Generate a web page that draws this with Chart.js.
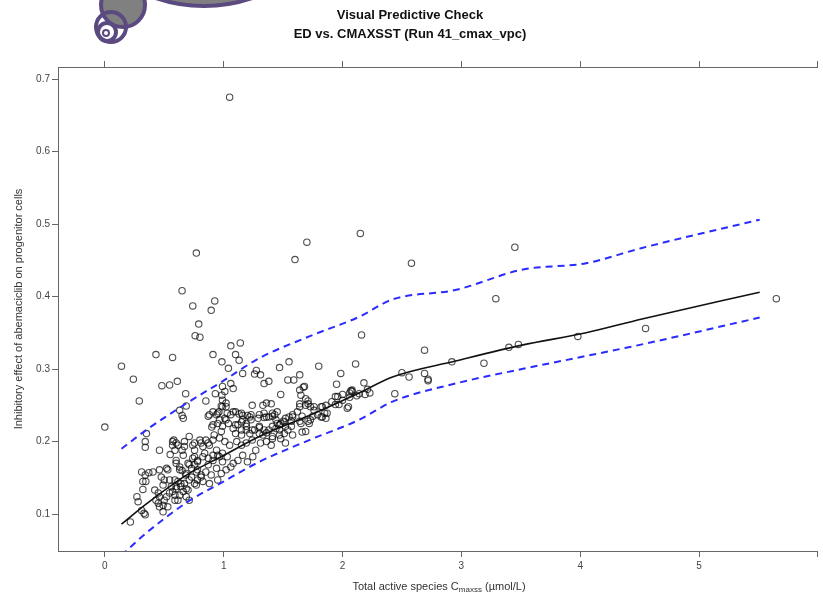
<!DOCTYPE html>
<html>
<head>
<meta charset="utf-8">
<script src="https://cdn.jsdelivr.net/npm/chart.js@4"></script>
<style>
  html, body { margin: 0; padding: 0; background: #fff; }
  #wrap { position: relative; width: 823px; height: 595px; overflow: hidden; }
  #logo { position: absolute; left: 0; top: 0; }
  #xtitle {
    position: absolute; left: 58px; width: 762px; top: 580px;
    text-align: center; font: 11px "Liberation Sans", Arial, sans-serif; color: #333;
  }
  #xtitle sub { font-size: 8px; vertical-align: -2px; }
</style>
</head>
<body>
<div id="wrap">
  <canvas id="vpc" width="823" height="595"></canvas>
  <svg id="logo" width="260" height="50">
    <circle cx="204" cy="-144" r="150" fill="#808080" stroke="#5b4a80" stroke-width="4"/>
    <circle cx="123" cy="5" r="22" fill="#808080" stroke="#5b4a80" stroke-width="4"/>
    <circle cx="111" cy="27" r="15" fill="none" stroke="#5b4a80" stroke-width="4"/>
    <circle cx="107" cy="32" r="9" fill="none" stroke="#5b4a80" stroke-width="4"/>
    <circle cx="106" cy="33" r="3" fill="none" stroke="#5b4a80" stroke-width="2"/>
  </svg>
  <div id="xtitle">Total active species C<sub>maxss</sub> (µmol/L)</div>
</div>
<script>
// observed data: concentration (µmol/L) and inhibitory effect
const obsConc = [
  0.00, 0.14, 0.24, 0.29, 0.43, 0.57, 0.48, 0.545, 0.61, 0.65, 0.77, 0.74, 0.925, 0.895, 0.79, 0.76, 0.80,
  1.05, 1.70, 1.60, 2.15, 2.58, 3.45, 3.29, 5.65, 4.55, 3.98, 3.48, 3.40, 3.19, 2.92, 2.69, 2.50, 2.56,
  2.69, 2.72, 2.72, 2.44, 2.18, 2.07, 2.12, 2.19, 2.23, 2.06, 2.05, 2.16, 2.11,
  0.91, 0.985, 1.04, 1.06, 1.14, 1.10, 1.13, 1.16, 1.26, 1.275, 1.31, 1.34, 1.38, 1.47, 1.55, 1.64, 1.59,
  1.54, 1.80, 1.67, 1.985, 1.95, 0.68, 0.85, 0.93, 0.99, 1.01, 1.08, 1.06, 0.985, 0.99, 0.98, 1.02,
  1.64, 1.68, 1.71, 1.64, 1.69, 1.48, 1.65, 1.69, 1.64, 1.71, 1.24, 1.33, 1.36, 1.40,
  0.685, 0.63, 0.65, 0.66, 0.35, 0.34, 0.34, 0.46, 0.55, 0.58, 0.60, 0.57, 0.59, 0.65, 0.67, 0.71, 0.74,
  0.755, 0.31, 0.34, 0.37, 0.405, 0.32, 0.345, 0.32, 0.27, 0.28, 0.31, 0.33, 0.215,
  0.46, 0.475, 0.50, 0.49, 0.42, 0.45, 0.46, 0.43, 0.45, 0.49, 0.50, 0.52, 0.545, 0.56, 0.57, 0.59, 0.60,
  0.615, 0.545, 0.63, 0.615, 0.59, 0.60, 0.63, 0.65, 0.68, 0.71, 0.73, 0.755, 0.78, 0.71, 0.53, 0.52,
  0.81, 0.85, 0.88, 0.92, 0.90, 0.95, 0.98, 0.88, 0.95, 0.965, 0.84, 0.87, 0.91, 0.94, 0.965, 0.99,
  0.755, 0.78, 0.73, 0.755, 0.78, 0.81, 0.67, 0.64, 0.66, 0.70, 0.685, 0.71, 0.49, 0.46, 0.53, 0.34,
  0.91, 0.94, 0.87, 1.02, 1.03, 1.08, 1.13, 1.16, 1.22, 1.15, 1.10, 1.19, 1.30, 1.36, 1.41, 1.44, 1.47,
  1.52, 1.58, 1.64, 1.66, 1.71, 1.75, 1.69, 1.76, 1.83, 1.86, 1.83, 1.87, 1.94, 2.00, 1.96, 2.06, 2.08,
  2.04, 1.27, 1.24, 1.30, 1.34, 1.41, 1.45, 1.19, 1.15, 1.19, 1.36, 1.41, 1.48, 1.58, 1.66,
  0.96, 0.99, 1.02, 1.01, 1.06, 1.10, 1.15, 1.16, 1.23, 1.29, 1.34, 1.38, 1.43, 1.51, 1.55, 1.62,
  0.91, 0.99, 1.04, 1.08, 1.12, 1.10, 1.15, 1.19, 1.22, 1.26, 1.30, 1.33, 1.38, 1.44, 1.48, 1.52, 1.57,
  0.57, 0.615, 0.67, 0.755, 0.80, 0.825, 0.87, 0.91, 0.965, 1.01, 1.05, 1.11, 1.15, 1.31, 1.41, 1.47,
  1.51, 1.54, 0.60, 0.66, 0.70, 0.74, 0.78, 0.825, 0.87, 0.91, 0.95, 0.99, 1.03, 1.08, 1.12, 1.16, 1.20,
  1.245, 0.63, 0.685, 0.77, 0.81, 0.85, 0.895, 0.94, 0.98, 1.02, 1.06, 0.59, 0.64, 0.77, 0.825, 0.88,
  0.95, 0.60, 0.685, 2.14, 2.21, 2.08, 2.00, 1.97, 1.94, 1.91, 1.82, 1.85, 1.86, 1.82, 1.76, 1.73, 1.79,
  1.73, 1.72, 1.65, 1.58, 1.57, 1.50, 1.47, 1.36, 1.30, 1.24, 1.20, 1.23, 1.34, 1.41, 1.45, 1.40, 1.52
];
const obsEffect = [
  0.220, 0.304, 0.286, 0.256, 0.320, 0.316, 0.277, 0.278, 0.283, 0.408, 0.460, 0.387, 0.394, 0.381, 0.362, 0.346, 0.344,
  0.675, 0.475, 0.451, 0.487, 0.446, 0.468, 0.397, 0.397, 0.356, 0.345, 0.334, 0.330, 0.308, 0.310, 0.326, 0.295, 0.289,
  0.294, 0.286, 0.284, 0.266, 0.281, 0.270, 0.263, 0.265, 0.267, 0.261, 0.248, 0.347, 0.307,
  0.320, 0.310, 0.301, 0.332, 0.336, 0.320, 0.312, 0.294, 0.293, 0.298, 0.292, 0.280, 0.283, 0.302, 0.310, 0.292, 0.285,
  0.285, 0.304, 0.275, 0.294, 0.279, 0.266, 0.256, 0.266, 0.276, 0.269, 0.273, 0.280, 0.264, 0.257, 0.249, 0.248,
  0.271, 0.276, 0.256, 0.248, 0.250, 0.265, 0.264, 0.259, 0.252, 0.252, 0.250, 0.250, 0.253, 0.252,
  0.249, 0.243, 0.236, 0.232, 0.211, 0.200, 0.192, 0.188, 0.182, 0.202, 0.198, 0.195, 0.188, 0.188, 0.193, 0.207, 0.195,
  0.188, 0.158, 0.154, 0.157, 0.158, 0.145, 0.145, 0.134, 0.124, 0.117, 0.105, 0.101, 0.089,
  0.161, 0.151, 0.147, 0.140, 0.133, 0.129, 0.124, 0.119, 0.115, 0.112, 0.119, 0.124, 0.147, 0.138, 0.131, 0.126, 0.135,
  0.145, 0.129, 0.126, 0.119, 0.119, 0.170, 0.165, 0.160, 0.154, 0.168, 0.163, 0.168, 0.161, 0.147, 0.161, 0.163,
  0.198, 0.202, 0.195, 0.209, 0.220, 0.225, 0.214, 0.237, 0.239, 0.230, 0.184, 0.177, 0.181, 0.188, 0.179, 0.184,
  0.179, 0.174, 0.151, 0.142, 0.147, 0.154, 0.142, 0.138, 0.131, 0.133, 0.124, 0.119, 0.103, 0.110, 0.110, 0.099,
  0.241, 0.237, 0.235, 0.230, 0.239, 0.241, 0.238, 0.236, 0.234, 0.227, 0.223, 0.225, 0.237, 0.234, 0.239, 0.230, 0.223,
  0.232, 0.237, 0.228, 0.235, 0.228, 0.235, 0.214, 0.248, 0.248, 0.250, 0.234, 0.239, 0.251, 0.265, 0.262, 0.267, 0.269,
  0.246, 0.188, 0.202, 0.211, 0.216, 0.221, 0.225, 0.216, 0.209, 0.198, 0.200, 0.204, 0.204, 0.209, 0.213,
  0.241, 0.248, 0.253, 0.232, 0.237, 0.241, 0.239, 0.230, 0.237, 0.232, 0.239, 0.234, 0.237, 0.227, 0.234, 0.241,
  0.223, 0.221, 0.225, 0.218, 0.223, 0.211, 0.216, 0.221, 0.211, 0.216, 0.221, 0.209, 0.216, 0.218, 0.225, 0.221, 0.228,
  0.200, 0.195, 0.200, 0.198, 0.202, 0.193, 0.198, 0.202, 0.205, 0.200, 0.195, 0.200, 0.195, 0.198, 0.207, 0.209,
  0.211, 0.216, 0.174, 0.181, 0.170, 0.177, 0.172, 0.179, 0.168, 0.174, 0.181, 0.172, 0.179, 0.170, 0.174, 0.181, 0.172,
  0.179, 0.161, 0.156, 0.158, 0.151, 0.158, 0.154, 0.163, 0.156, 0.161, 0.165, 0.147, 0.142, 0.140, 0.145, 0.142,
  0.147, 0.138, 0.135, 0.266, 0.272, 0.271, 0.257, 0.251, 0.262, 0.255, 0.248, 0.239, 0.232, 0.234, 0.243, 0.248, 0.237,
  0.230, 0.225, 0.225, 0.234, 0.221, 0.228, 0.216, 0.212, 0.219, 0.216, 0.236, 0.230, 0.233, 0.235, 0.241, 0.195, 0.198
];

// simulated prediction band (median, 5th and 95th percentiles)
const simConc = [0.14, 0.35, 0.69, 0.99, 1.30, 1.72, 2.14, 2.42, 2.95, 3.51, 4.05, 4.52, 5.51];
const simMedian = [0.086, 0.114, 0.154, 0.180, 0.207, 0.236, 0.267, 0.289, 0.311, 0.333, 0.350, 0.369, 0.406];
const simP95 = [0.190, 0.216, 0.253, 0.283, 0.315, 0.345, 0.372, 0.396, 0.409, 0.437, 0.446, 0.467, 0.506];
const simP05 = [0.043, 0.074, 0.116, 0.144, 0.172, 0.202, 0.230, 0.255, 0.280, 0.300, 0.318, 0.334, 0.371];

const xTicks = [0, 1, 2, 3, 4, 5, 6];

const toXY = (xs, ys) => xs.map((x, i) => ({ x, y: ys[i] }));
const axisGrey = '#666';
const font = { family: '"Liberation Sans", Arial, sans-serif', size: 10 };

const bandLine = (data, color, width, dash) => ({
  type: 'line', data, borderColor: color, borderWidth: width, borderDash: dash,
  pointRadius: 0, fill: false, cubicInterpolationMode: 'monotone'
});

const xScaleBase = {
  type: 'linear', min: -0.394, max: 6.0,
  afterBuildTicks: s => { s.ticks = xTicks.map(v => ({ value: v })); },
  grid: { display: true, drawOnChartArea: false, drawTicks: true, tickLength: 6, color: axisGrey },
  border: { display: true, color: axisGrey, width: 1 }
};

new Chart(document.getElementById('vpc'), {
  type: 'scatter',
  data: {
    datasets: [
      bandLine(toXY(simConc, simMedian), '#111', 1.6, []),
      bandLine(toXY(simConc, simP95), '#2b2bff', 2, [7, 5]),
      bandLine(toXY(simConc, simP05), '#2b2bff', 2, [7, 5]),
      {
        data: toXY(obsConc, obsEffect),
        pointStyle: 'circle', pointRadius: 3.2, borderWidth: 1.1,
        borderColor: 'rgba(10,10,10,0.72)', backgroundColor: 'rgba(0,0,0,0)'
      }
    ]
  },
  options: {
    responsive: false, animation: false, devicePixelRatio: 1,
    layout: { padding: { left: 0, right: 3, top: 0, bottom: 0 } },
    plugins: {
      legend: { display: false }, tooltip: { enabled: false },
      title: {
        display: true, text: 'Visual Predictive Check', color: '#111',
        font: { family: '"Liberation Sans", Arial, sans-serif', size: 13, weight: 'bold' },
        padding: { top: 8, bottom: 0 }
      },
      subtitle: {
        display: true, text: 'ED vs. CMAXSST (Run 41_cmax_vpc)', color: '#111',
        font: { family: '"Liberation Sans", Arial, sans-serif', size: 13, weight: 'bold' },
        padding: { top: 3, bottom: 2 }
      }
    },
    scales: {
      x: Object.assign({}, xScaleBase, {
        position: 'bottom',
        ticks: { color: '#444', font, padding: 3, callback: v => (v >= 6 ? '' : String(v)) },
        afterFit: s => { s.height = 44; }
      }),
      x2: Object.assign({}, xScaleBase, {
        position: 'top',
        ticks: { display: false },
        afterFit: s => { s.height = 22.8; }
      }),
      y: {
        type: 'linear', min: 0.049, max: 0.7166,
        ticks: { stepSize: 0.1, includeBounds: false, color: '#444', font, padding: 2,
                 callback: v => v.toFixed(1) },
        grid: { display: true, drawOnChartArea: false, drawTicks: true, tickLength: 6, color: axisGrey },
        border: { display: true, color: axisGrey, width: 1 },
        title: {
          display: true, text: 'Inhibitory effect of abemaciclib on progenitor cells',
          color: '#333', font: { family: '"Liberation Sans", Arial, sans-serif', size: 11 },
          padding: { top: 12, bottom: 0 }
        },
        afterFit: s => { s.width = 58; }
      }
    }
  }
});
</script>
</body>
</html>
